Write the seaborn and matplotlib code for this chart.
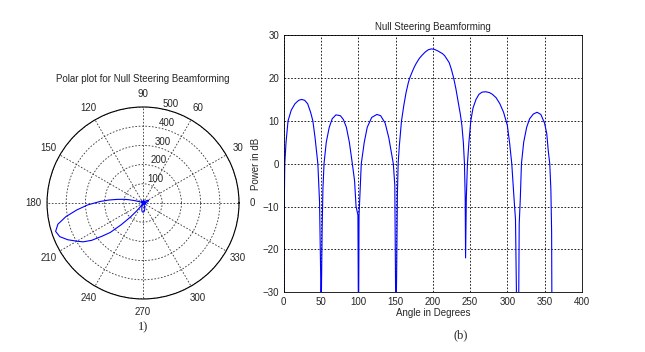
import numpy as np
import pandas as pd
import matplotlib
matplotlib.use('Agg')
import matplotlib.pyplot as plt
import seaborn as sns

# angle (deg) and power (dB)
angle_deg = [0, 0.5, 1.3, 3, 5.7, 10, 15, 20, 24, 28, 32, 36, 39, 42, 45.7, 48, 49.5, 50,
             50.5, 51.5, 52.5, 54, 57, 61, 65, 70, 76, 80, 84, 88, 92, 95, 97, 99.5, 100.3,
             101, 102, 104, 108, 112, 118, 125, 130, 136, 141, 145, 147, 149, 150.5,
             151.5, 152.5, 153.5, 155, 158, 161, 164, 167, 169, 172, 175, 178, 182, 186,
             190, 194, 198, 202, 206, 210, 213, 216, 219, 222, 225, 228, 231, 234, 237,
             239, 241, 242.5, 243.5, 244, 245, 246.5, 248.5, 251, 254, 258, 262, 266, 271,
             276, 280, 285, 290, 295, 300, 303, 306, 309, 311, 313, 315, 316, 317.5,
             319, 322, 326, 330, 335, 340, 345, 350, 353, 355, 357, 358.5, 359.5, 360]
power_db = [-40, -12, 0, 5, 10, 12.5, 14, 14.8, 15, 14.8, 14, 12, 10, 6, 0, -9, -26, -40,
            -30, -15, -6, 0, 5, 8.5, 10.5, 11.4, 11.2, 10.3, 8.5, 5, 0, -4, -10, -12, -40,
            -12, -8, 0, 5, 8.5, 10.8, 11.5, 11.2, 9.5, 6, 2, 0, -5, -40,
            -25, -7, 0, 4, 10, 13.5, 16.5, 18.8, 20, 21.3, 22.5, 23.5, 24.6, 25.4,
            26.1, 26.6, 26.8, 26.7, 26.4, 26, 25.7, 25.2, 24.4, 23.6, 22, 20, 17.5, 14.5, 11.5,
            9, 5, 0, -8, -22, -8, 0, 5, 10, 13, 15, 16.2, 16.7, 16.8,
            16.6, 16.2, 15.4, 14, 12, 9, 5, 0, -8, -13, -40, -40, -14, -8,
            0, 5, 8.5, 10.5, 11.6, 12, 11.5, 9.5, 7, 3, 0, -6, -16, -40]

x_ticks = [0, 50, 100, 150, 200, 250, 300, 350, 400]
y_ticks = [-30, -20, -10, 0, 10, 20, 30]
r_ticks = [100, 200, 300, 400, 500]
theta_ticks = [0, 30, 60, 90, 120, 150, 180, 210, 240, 270, 300, 330]

df = pd.DataFrame({'angle': angle_deg, 'db': power_db})
df['theta'] = np.deg2rad(df['angle'])
df['power'] = 10 ** (df['db'] / 10)

sns.set_style('white')
plt.rcParams['font.family'] = ['Liberation Sans', 'DejaVu Sans']

fig = plt.figure(figsize=(6.45, 3.52), dpi=100)

# polar panel
axp = fig.add_axes([0.0729, 0.1506, 0.2977, 0.5455], projection='polar')
sns.lineplot(data=df, x='theta', y='power', sort=False, color='blue', lw=0.8, ax=axp)
axp.set_ylim(0, 500)
axp.set_yticks(r_ticks)
axp.set_yticklabels([str(r) for r in r_ticks], fontsize=7)
axp.set_rlabel_position(78)
axp.set_xticks(np.deg2rad(theta_ticks))
axp.set_xticklabels([str(t) for t in theta_ticks], fontsize=7)
axp.tick_params(axis='x', pad=-1)
axp.grid(True, color='#333333', linestyle=(0, (2, 2)), lw=0.6)
axp.spines['polar'].set_color('black')
axp.spines['polar'].set_linewidth(0.8)
axp.set_xlabel('')
axp.set_ylabel('')
axp.set_title('Polar plot for Null Steering Beamforming', fontsize=7, pad=5)

# cartesian panel
ax = fig.add_axes([0.440, 0.170, 0.462, 0.730])
sns.lineplot(data=df, x='angle', y='db', sort=False, color='blue', lw=0.8, ax=ax)
ax.set_xlim(0, 400)
ax.set_ylim(-30, 30)
ax.set_xticks(x_ticks)
ax.set_yticks(y_ticks)
ax.tick_params(direction='in', length=3, labelsize=7, color='black')
ax.grid(True, color='black', linestyle=(0, (2, 2)), lw=0.6)
for s in ax.spines.values():
    s.set_color('black')
    s.set_linewidth(0.6)
ax.set_xlabel('Angle in Degrees', fontsize=7, labelpad=1)
ax.set_ylabel('Power in dB', fontsize=7, labelpad=1)
ax.set_title('Null Steering Beamforming', fontsize=7, pad=4)

fig.text(143 / 645, 1 - 327 / 352, '1)', ha='center', va='center',
         fontsize=9, family='Liberation Serif')
fig.text(461 / 645, 1 - 335 / 352, '(b)', ha='center', va='center',
         fontsize=9, family='Liberation Serif')

fig.savefig('out.png', dpi=100)
